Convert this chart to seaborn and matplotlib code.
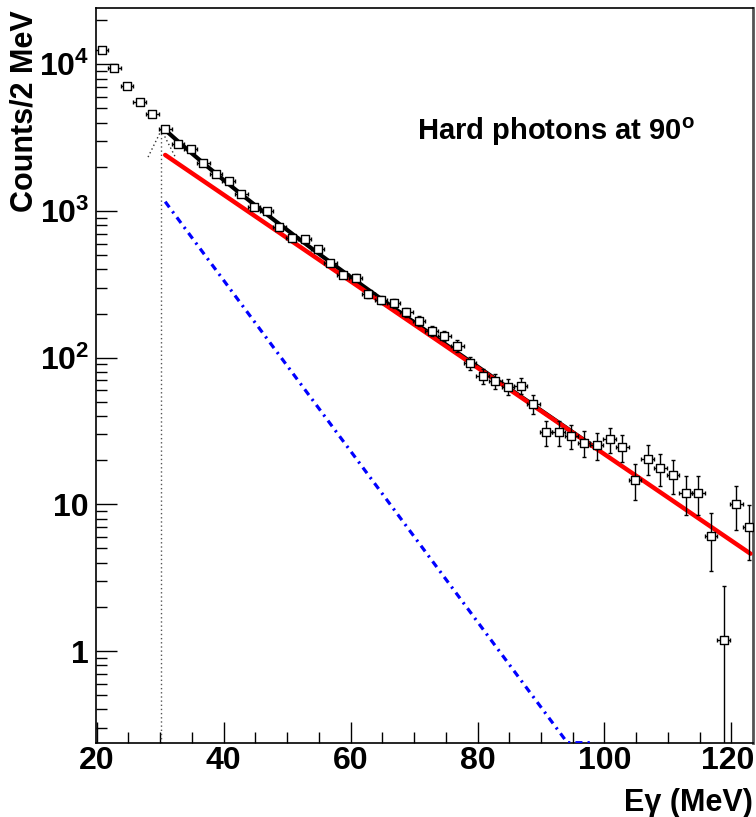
import numpy as np
import pandas as pd
import matplotlib
matplotlib.use("Agg")
import matplotlib.pyplot as plt
import matplotlib.transforms as mtransforms
import seaborn as sns
from matplotlib.ticker import FixedLocator, LogLocator, NullFormatter, MultipleLocator

# ---------------- data ----------------
energy = [20.8 + 2 * k for k in range(52)]  # bin centres (MeV), 2 MeV bins
counts = [12500, 9490, 7110, 5530, 4580, 3620, 2880, 2630, 2135, 1787,
          1601, 1300, 1060, 1000, 782, 652, 641, 551, 440, 366,
          351, 271, 247, 235, 204, 178, 152, 141, 121, 91.6,
          75, 69.3, 63.4, 64.1, 48.3, 31, 31, 29.4, 26.3, 25.4,
          27.8, 24.5, 14.7, 20.5, 17.8, 15.9, 12.0, 12.0, 6.1, 1.19,
          10.0, 7.05]
count_err = [112, 97, 84, 74, 68, 60, 54, 51, 46, 42,
             40, 36, 33, 32, 28, 26, 25, 23, 21, 19,
             19, 16.5, 15.7, 15.3, 14.3, 13.3, 12.3, 11.9, 11, 9.6,
             8.7, 8.3, 8.0, 8.0, 7.0, 5.9, 5.9, 5.6, 5.4, 5.3,
             5.5, 5.2, 4.0, 4.7, 4.4, 4.1, 3.6, 3.6, 2.6, 1.6,
             3.3, 2.9]
energy_halfwidth = 1.0

# fit components: amplitude at fit start, inverse slope (MeV)
fit_start = 30.8
red_end = 123.0
blue_end = 98.5
red_amp, red_slope = 2410.0, 14.73
blue_amp, blue_slope = 1157.0, 7.46
threshold = 30.2

y_ticks = [1, 10, 100, 1000, 10000]
y_tick_labels = ["1", "10", r"$10^{2}$", r"$10^{3}$", r"$10^{4}$"]
x_ticks = [20, 40, 60, 80, 100, 120]
x_tick_labels = ["20", "40", "60", "80", "100", "120"]

# ---------------- style ----------------
sns.set_theme(style="white")
plt.rcParams["font.family"] = ["Liberation Sans", "DejaVu Sans"]
plt.rcParams["font.weight"] = "bold"
plt.rcParams["text.color"] = "black"
plt.rcParams["axes.labelcolor"] = "black"
plt.rcParams["xtick.color"] = "black"
plt.rcParams["ytick.color"] = "black"
plt.rcParams["mathtext.fontset"] = "custom"
plt.rcParams["mathtext.rm"] = "Liberation Sans:bold"
plt.rcParams["mathtext.it"] = "Liberation Sans:bold"
plt.rcParams["mathtext.bf"] = "Liberation Sans:bold"

fig = plt.figure(figsize=(7.56, 8.17), dpi=100)
ax = fig.add_axes([96 / 756, 1 - 743 / 817, (753 - 96) / 756, (743 - 8) / 817])

xmin, xmax = 19.9, 123.4
ymin, ymax = 0.236, 24200
ax.set_xlim(xmin, xmax)
ax.set_yscale("log")
ax.set_ylim(ymin, ymax)

df = pd.DataFrame({"E": energy, "N": counts, "err": count_err})

# fits
e_fit = np.linspace(fit_start, blue_end, 400)
e_red = np.linspace(fit_start, red_end, 400)
red_fit = red_amp * np.exp(-(e_red - fit_start) / red_slope)
blue_fit = blue_amp * np.exp(-(e_fit - fit_start) / blue_slope)
sum_fit = red_amp * np.exp(-(e_fit - fit_start) / red_slope) + blue_fit
blue_draw = np.clip(blue_fit, ymin * 1.005, None)

fits = pd.DataFrame({"E": e_fit, "sum": sum_fit, "blue": blue_draw})
reds = pd.DataFrame({"E": e_red, "red": red_fit})

# threshold arrow (dotted)
apex = red_amp + blue_amp
ax.plot([threshold, threshold], [ymin, apex], ls=(0, (1, 2)), color="#555555", lw=1.0, zorder=2)
head = apex / 10 ** 0.185
ax.plot([threshold - 2.1, threshold, threshold + 2.2], [head, apex, head],
        ls=(0, (1, 2)), color="#333333", lw=1.0, zorder=2)

sns.lineplot(data=fits, x="E", y="blue", ax=ax, color="#0000ff", lw=2.3,
             dashes=False, zorder=3)
ax.lines[-1].set_dashes((2.2, 1.6, 0.7, 1.6))
sns.lineplot(data=fits, x="E", y="sum", ax=ax, color="black", lw=3.0, zorder=4)
sns.lineplot(data=reds, x="E", y="red", ax=ax, color="#ff0000", lw=3.2, zorder=5)

# error bars
lo = np.minimum(df["err"].values, df["N"].values - ymin * 0.5)
ax.errorbar(df["E"], df["N"], yerr=[lo, df["err"].values], xerr=energy_halfwidth,
            fmt="none", ecolor="black", elinewidth=1.0, capsize=1.3, capthick=1.0, zorder=6)
sns.scatterplot(data=df, x="E", y="N", ax=ax, marker="s", s=28, facecolor="white",
                edgecolor="black", linewidth=1.0, zorder=7)

# axes cosmetics
ax.set_xlabel("Eγ (MeV)", fontsize=22, fontweight="bold")
ax.set_ylabel("Counts/2 MeV", fontsize=22, fontweight="bold")
ax.xaxis.label.set_horizontalalignment("right")
ax.xaxis.label.set_verticalalignment("top")
ax.xaxis.set_label_coords(1.0, (743 - 788) / 735)
ax.yaxis.label.set_horizontalalignment("right")
ax.yaxis.label.set_verticalalignment("bottom")
ax.yaxis.set_label_coords((40 - 96) / 657, (743 - 10) / 735)

ax.xaxis.set_major_locator(FixedLocator(x_ticks))
ax.set_xticklabels(x_tick_labels)
ax.xaxis.set_minor_locator(MultipleLocator(5))
ax.yaxis.set_major_locator(FixedLocator(y_ticks))
ax.set_yticklabels(y_tick_labels)
ax.yaxis.set_minor_locator(LogLocator(base=10, subs=np.arange(2, 10)))
ax.yaxis.set_minor_formatter(NullFormatter())

ax.tick_params(axis="both", which="major", direction="in", length=15, width=1.0,
               labelsize=23, colors="black", bottom=True, left=True, top=False, right=False)
ax.tick_params(axis="both", which="minor", direction="in", length=8, width=1.0,
               bottom=True, left=True, top=False, right=False)
ax.tick_params(axis="x", which="major", pad=2)
ax.tick_params(axis="y", which="major", pad=5)
for lab in ax.get_xticklabels() + ax.get_yticklabels():
    lab.set_fontweight("bold")
# keep the last x label inside the canvas
last = ax.get_xticklabels()[-1]
last.set_transform(last.get_transform() + mtransforms.ScaledTranslation(-4 / 100, 0, fig.dpi_scale_trans))

for side in ["left", "bottom", "top"]:
    ax.spines[side].set_color("black")
    ax.spines[side].set_linewidth(1.2)
ax.spines["right"].set_color("#555555")
ax.spines["right"].set_linewidth(2.0)

ax.text(0.488, 0.82, r"Hard photons at 90$^{\mathrm{o}}$", transform=ax.transAxes,
        fontsize=21, fontweight="bold", ha="left", va="baseline", color="black")

leg = ax.get_legend()
if leg is not None:
    leg.remove()

fig.savefig("out.png", dpi=100)
